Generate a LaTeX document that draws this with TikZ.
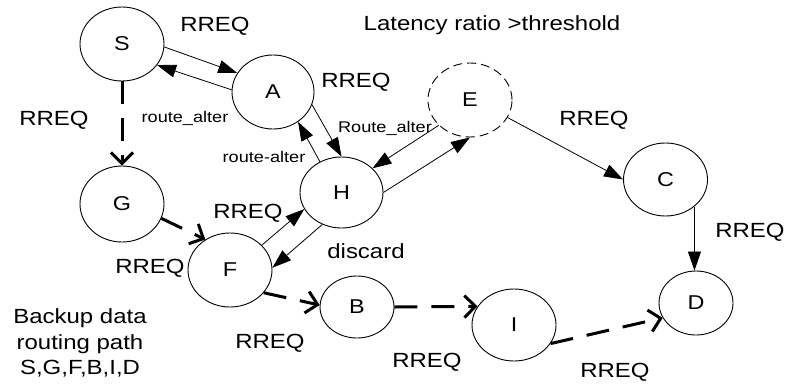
\documentclass[tikz,border=0pt]{standalone}
\usepackage{fontspec}
\setmainfont{Liberation Sans}
\usepackage{graphicx}
\usetikzlibrary{shapes.geometric,arrows.meta}
\newcommand{\hstr}[1]{\scalebox{1.17}[1]{#1}}
\tikzset{
  nd/.style={draw, ellipse, line width=0.9pt, inner sep=0pt, minimum width=84pt, minimum height=74pt, font=\fontsize{20}{21}\selectfont},
  lbl/.style={inner sep=0pt, font=\fontsize{20.5}{21}\selectfont},
  slbl/.style={inner sep=0pt, font=\fontsize{15.5}{16}\selectfont},
  thinarrow/.style={line width=0.8pt, -{Triangle[length=19pt,width=13pt]}},
  dasharrow/.style={line width=3pt, dash pattern=on 23pt off 14pt, -{Straight Barb[length=11pt,width=22pt,line width=3pt]}}
}
\begin{document}
\begin{tikzpicture}[x=1pt,y=-1pt]
\useasboundingbox (0,0) rectangle (786,383);
% nodes
\node[nd] (S) at (122,44) {\hstr{S}};
\node[nd, minimum width=82pt] (A) at (273,92) {\hstr{A}};
\node[nd, dashed, dash pattern=on 9pt off 5pt] (E) at (470,100) {\hstr{E}};
\node[nd, minimum height=73pt] (C) at (665.5,179.5) {\hstr{C}};
\node[nd, minimum width=83pt, minimum height=71pt] (H) at (341.5,192.5) {\hstr{H}};
\node[nd, minimum height=76pt] (G) at (122,204) {\hstr{G}};
\node[nd] (F) at (230,270) {\hstr{F}};
\node[nd, minimum width=74pt, minimum height=62pt] (B) at (357,307) {\hstr{B}};
\node[nd, minimum height=72pt] (I) at (514,325) {\hstr{I}};
\node[nd, minimum width=74pt, minimum height=64pt] (D) at (696,303) {\hstr{D}};
% thin arrows
\draw[thinarrow] (S.-4) -- (A.152);
\draw[thinarrow] (A.177) -- (S.-31);
\draw[thinarrow] (A.-18) -- (H.90);
\draw[thinarrow] (H.125) -- (A.-50);
\draw[thinarrow] (E.219) -- (H.38);
\draw[thinarrow] (H.0) -- (E.270);
\draw[thinarrow] (E.-25) -- (C.180);
\draw[thinarrow] (C.-43) -- (C.-43 |- D.north);
\draw[thinarrow] (F.38) -- (H.204);
\draw[thinarrow] (H.239) -- (F.3);
% dashed backup path
\draw[dasharrow] (S.south) -- (G.north);
\draw[dasharrow] (G.-20) -- (F.129);
\draw[dasharrow] (F.-34) -- (B.177);
\draw[dasharrow] (B.east) -- (I.153);
\draw[dasharrow] (I.-27) -- (D.204);
% labels
\node[lbl] (l1) at (215,26) {\hstr{RREQ}};
\node[lbl] (l2) at (492,25) {\hstr{Latency ratio >threshold}};
\node[lbl] (l3) at (356,82) {\hstr{RREQ}};
\node[lbl] (l4) at (54,120) {\hstr{RREQ}};
\node[slbl] (l5) at (185,118) {\hstr{route\_alter}};
\node[slbl] (l6) at (264,157) {\hstr{route-alter}};
\node[slbl] (l7) at (385,128) {\hstr{Route\_alter}};
\node[lbl] (l8) at (594,120) {\hstr{RREQ}};
\node[lbl] (l9) at (248,213) {\hstr{RREQ}};
\node[lbl] (l10) at (150,268) {\hstr{RREQ}};
\node[lbl] (l11) at (366,251) {\hstr{discard}};
\node[lbl, align=center, font=\fontsize{20.5}{25.5}\selectfont] (l12) at (80,343) {\hstr{Backup data}\\\hstr{routing path}\\\hstr{S,G,F,B,I,D}};
\node[lbl] (l13) at (270,343) {\hstr{RREQ}};
\node[lbl] (l14) at (427,362) {\hstr{RREQ}};
\node[lbl] (l15) at (615,372) {\hstr{RREQ}};
\node[lbl] (l16) at (750,232) {\hstr{RREQ}};
\end{tikzpicture}
\end{document}
